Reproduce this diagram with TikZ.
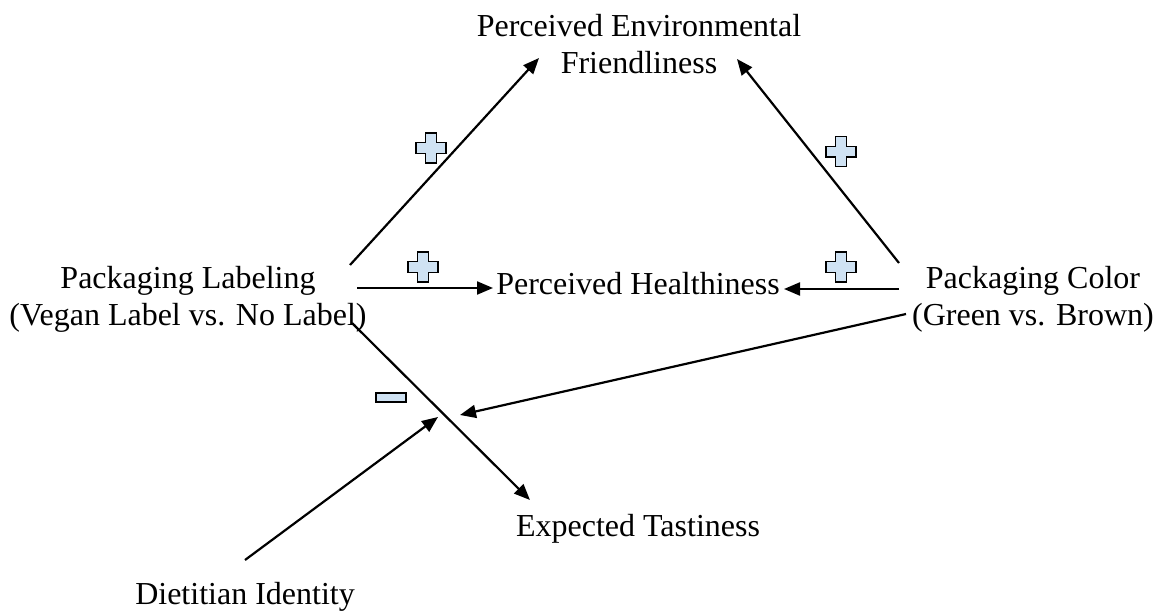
\documentclass[tikz,border=0pt]{standalone}
\usepackage{fontspec}
\setmainfont{Liberation Serif}
\usetikzlibrary{arrows.meta}
\definecolor{signfill}{RGB}{207,226,243}
\begin{document}
\begin{tikzpicture}[x=1pt,y=-1pt,
  lbl/.style={font=\fontsize{32}{37}\selectfont, inner sep=0pt, anchor=base, align=center},
  conn/.style={line width=2.2pt, -{Triangle[length=16pt,width=13pt]}},
  sign/.style={draw=black, line width=1.4pt, fill=signfill, line join=miter},
  plussign/.pic={\draw[sign] (-5.3,-15) -- (5.3,-15) -- (5.3,-5.3) -- (15,-5.3) -- (15,5.3) -- (5.3,5.3) -- (5.3,15) -- (-5.3,15) -- (-5.3,5.3) -- (-15,5.3) -- (-15,-5.3) -- (-5.3,-5.3) -- cycle;}
]
\useasboundingbox (0,0) rectangle (1159,613);

% labels (base = baseline of the last line)
\node[lbl] (env) at (639,73) {Perceived Environmental\\Friendliness};
\node[lbl] (lab) at (188,325) {Packaging Labeling\\(Vegan Label vs. No Label)};
\node[lbl] (col) at (1033,325) {Packaging Color\\(Green vs. Brown)};
\node[lbl] (hea) at (638,294) {Perceived Healthiness};
\node[lbl] (tas) at (638,536) {Expected Tastiness};
\node[lbl] (die) at (245,604) {Dietitian Identity};

% connector end points
\coordinate (labA) at (350,265);
\coordinate (envL) at (539,58);
\coordinate (colA) at (899,263);
\coordinate (envR) at (737,59);
\coordinate (labB) at (357,288);
\coordinate (heaL) at (493,288);
\coordinate (colB) at (899,289);
\coordinate (heaR) at (784,289);
\coordinate (labC) at (352,323);
\coordinate (tasT) at (530,500);
\coordinate (colC) at (906,314);
\coordinate (modR) at (460,415);
\coordinate (dieA) at (245,560);
\coordinate (modL) at (438,417);

\draw[conn] (labA) -- (envL);
\draw[conn] (colA) -- (envR);
\draw[conn] (labB) -- (heaL);
\draw[conn] (colB) -- (heaR);
\draw[conn] (labC) -- (tasT);
\draw[conn] (colC) -- (modR);
\draw[conn] (dieA) -- (modL);

% signs
\pic at (431,148) {plussign};
\pic at (841,151.5) {plussign};
\pic at (423,267) {plussign};
\pic at (841,267) {plussign};
\draw[sign] (376,393) rectangle (406,402);
\end{tikzpicture}
\end{document}
